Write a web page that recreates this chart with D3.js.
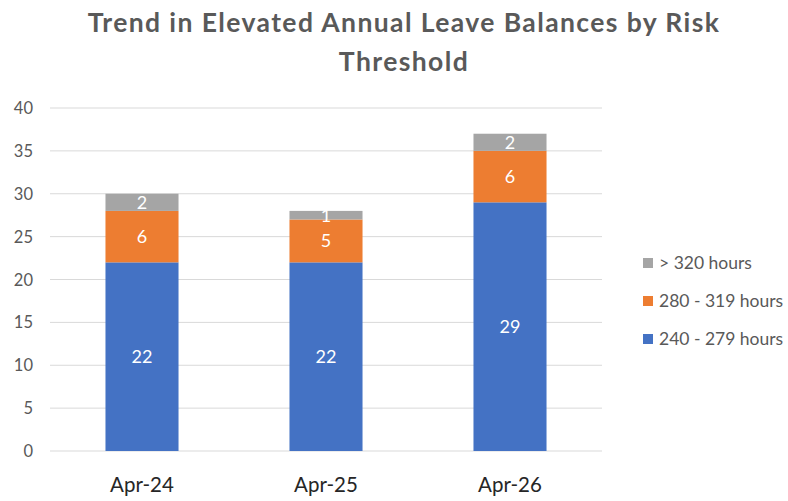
<!DOCTYPE html>
<html><head><meta charset="utf-8">
<script src="https://cdn.jsdelivr.net/npm/d3@7"></script>
<style>body{margin:0;background:#fff}svg{display:block}text{font-family:Lato,"Open Sans",sans-serif}</style>
</head><body><svg id="c" width="788" height="501"></svg>
<script>
const categories = ["Apr-24","Apr-25","Apr-26"];
const seriesNames = ["240 - 279 hours","280 - 319 hours","> 320 hours"];
const s240 = [22,22,29];
const s280 = [6,5,6];
const s320 = [2,1,2];
const yTicks = [0,5,10,15,20,25,30,35,40];
const colors = ["#4472C4","#ED7D31","#A5A5A5"];
const titleLines = ["Trend in Elevated Annual Leave Balances by Risk","Threshold"];

const svg = d3.select("#c");
const x = d3.scaleBand().domain(categories).range([50,602]).paddingInner(0.603).paddingOuter(0.3015);
const y = d3.scaleLinear().domain([0,40]).range([451,108]);

svg.append("g").selectAll("line").data(yTicks).join("line")
  .attr("x1",50).attr("x2",602).attr("y1",d=>y(d)).attr("y2",d=>y(d))
  .attr("stroke","#D9D9D9").attr("stroke-width",1);

svg.append("g").selectAll("text").data(yTicks).join("text")
  .attr("x",33).attr("y",d=>y(d)+6).attr("text-anchor","end")
  .attr("font-size",16.5).attr("fill","#595959").text(d=>d);

const rows = categories.map((c,i)=>({cat:c,a:s240[i],b:s280[i],c:s320[i]}));
const stack = d3.stack().keys(["a","b","c"])(rows);
stack.forEach((layer,k)=>{
  const g = svg.append("g");
  g.selectAll("rect").data(layer).join("rect")
    .attr("x",d=>x(d.data.cat)).attr("width",x.bandwidth())
    .attr("y",d=>y(d[1])).attr("height",d=>y(d[0])-y(d[1]))
    .attr("fill",colors[k]);
  g.selectAll("text").data(layer).join("text")
    .attr("x",d=>x(d.data.cat)+x.bandwidth()/2)
    .attr("y",d=>(y(d[0])+y(d[1]))/2+6.5)
    .attr("text-anchor","middle").attr("font-size",18).attr("fill","#fff")
    .text(d=>d[1]-d[0]);
});

svg.append("g").selectAll("text").data(categories).join("text")
  .attr("x",d=>x(d)+x.bandwidth()/2).attr("y",492).attr("text-anchor","middle")
  .attr("font-size",20.5).attr("fill","#262626").text(d=>d);

const legendOrder = [2,1,0];
const lg = svg.append("g");
legendOrder.forEach((k,i)=>{
  const ly = 263 + i*38;
  lg.append("rect").attr("x",643).attr("y",ly-5).attr("width",10).attr("height",10).attr("fill",colors[k]);
  lg.append("text").attr("x",659).attr("y",ly+6).attr("font-size",17.5).attr("fill","#595959").text(seriesNames[k]);
});

svg.append("g").selectAll("text").data(titleLines).join("text")
  .attr("x",404).attr("y",(d,i)=>32+i*39).attr("text-anchor","middle")
  .attr("font-size",26.5).attr("font-weight","bold").attr("letter-spacing",1.4)
  .attr("fill","#595959").text(d=>d);
</script></body></html>
